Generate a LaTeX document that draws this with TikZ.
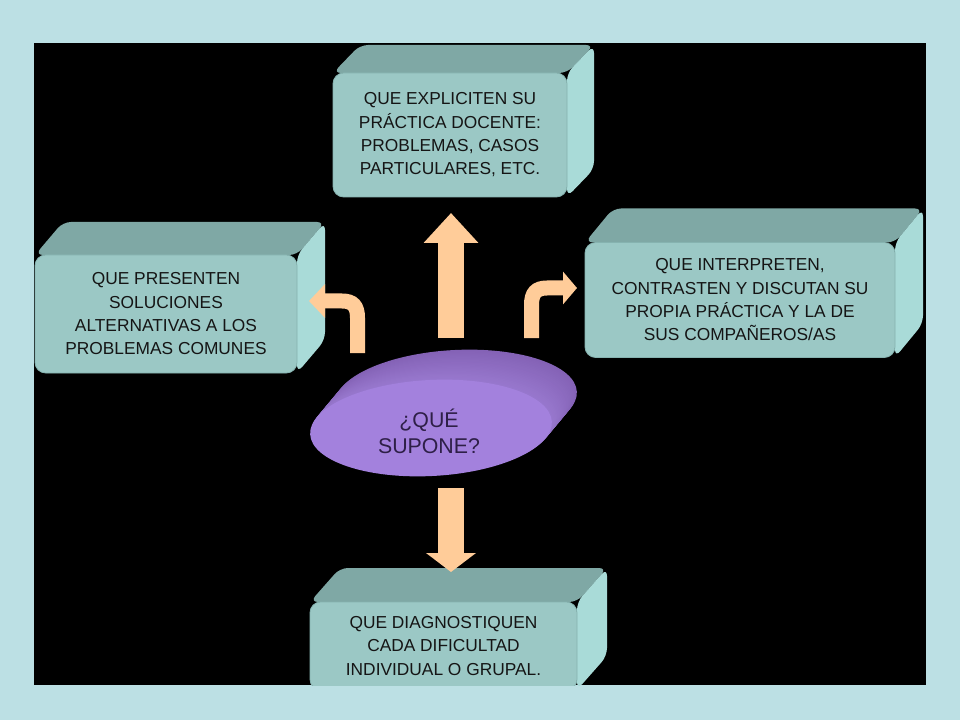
\documentclass[tikz,border=0pt]{standalone}
\usepackage{fontspec}
\setmainfont{Liberation Sans}
\usetikzlibrary{arrows.meta,calc}
\definecolor{outerbg}{HTML}{BCE0E4}
\definecolor{frontface}{HTML}{9BC8C5}
\definecolor{topface}{HTML}{7FA8A5}
\definecolor{sideface}{HTML}{A9DBD8}
\definecolor{faceedge}{HTML}{86B3B0}
\definecolor{arrowfill}{HTML}{FFCC99}
\definecolor{discfront}{HTML}{A381DD}
\definecolor{discback}{HTML}{8462B6}
\definecolor{discside}{HTML}{9878CE}
\definecolor{disctext}{HTML}{2E1F47}
\definecolor{boxtextcol}{HTML}{151515}
\tikzset{
  topside/.style={fill=topface, rounded corners=6pt},
  rightside/.style={fill=sideface, rounded corners=6pt},
  frontbox/.style={draw=faceedge, line width=0.6pt, fill=frontface, rounded corners=8pt,
    inner sep=0pt, align=center, text=boxtextcol, font=\fontsize{13}{17.5}\selectfont},
  blockarrow/.style={draw=arrowfill},
  disclabel/.style={align=center, text=disctext, font=\fontsize{16}{19.5}\selectfont},
}
% #1 name, #2 cx, #3 cy, #4 w, #5 h, #6 dx, #7 depth up, #8 text
\newcommand{\cubebox}[8]{%
  \coordinate (#1-tl) at ({#2-#4/2},{#3-#5/2});
  \coordinate (#1-tr) at ({#2+#4/2},{#3-#5/2});
  \coordinate (#1-br) at ({#2+#4/2},{#3+#5/2});
  \fill[topside] (#1-tl) -- ($(#1-tl)+(#6,-#7)$) -- ($(#1-tr)+(#6,-#7)$) -- (#1-tr) -- cycle;
  \fill[rightside] (#1-tr) -- ($(#1-tr)+(#6,-#7)$) -- ($(#1-br)+(#6,-#7)$) -- (#1-br) -- cycle;
  \node[frontbox, minimum width=#4*0.75pt, minimum height=#5*0.75pt] (#1) at (#2,#3) {#8};
}
\begin{document}
\begin{tikzpicture}[x=0.75pt,y=-0.75pt]
\useasboundingbox (0,0) rectangle (960,720);
\fill[outerbg] (0,0) rectangle (960,720);
\fill[black] (34,43) rectangle (926,685);
\begin{scope}
\clip (34,43) rectangle (926,685);
\cubebox{top}{450}{135}{234}{124}{27}{28}{QUE EXPLICITEN SU\\PRÁCTICA DOCENTE:\\PROBLEMAS, CASOS\\PARTICULARES, ETC.}
\cubebox{left}{166}{314}{262}{118}{28}{33}{QUE PRESENTEN\\SOLUCIONES\\ALTERNATIVAS A LOS\\PROBLEMAS COMUNES}
\cubebox{right}{740}{300}{310}{115}{28}{34}{QUE INTERPRETEN,\\CONTRASTEN Y DISCUTAN SU\\PROPIA PRÁCTICA Y LA DE\\SUS COMPAÑEROS/AS}
\cubebox{bottom}{443.5}{646}{267}{88}{30}{34}{QUE DIAGNOSTIQUEN\\CADA DIFICULTAD\\INDIVIDUAL O GRUPAL.}

% arrows
\coordinate (upS) at (451,338);
\coordinate (upE) at (451,213);
\coordinate (dnS) at (451,488);
\coordinate (dnE) at (451,572);
\coordinate (rtS) at (531.5,338);
\coordinate (rtE) at (577,288);
\coordinate (ltS) at (357.5,353);
\coordinate (ltE) at (309,301);
\draw[blockarrow, line width=19.5pt, -{Triangle[width=39.75pt,length=22.5pt]}] (upS) -- (upE);
\draw[blockarrow, line width=19.5pt, -{Triangle[width=36.75pt,length=14.25pt]}] (dnS) -- (dnE);
\draw[blockarrow, line width=11.25pt, -{Triangle[width=24pt,length=10.5pt]}]
  (rtS) -- (531.5,305) .. controls (531.5,293) and (536,288) .. (547,288) -- (rtE);
\draw[blockarrow, line width=11.25pt, -{Triangle[width=24.75pt,length=12pt]}]
  (ltS) -- (357.5,318) .. controls (357.5,306) and (353,301) .. (342,301) -- (ltE);

% disc
\foreach \i in {24,23,...,1}{
  \pgfmathtruncatemacro{\pcmix}{100*\i/24}
  \fill[discback!\pcmix!discside, rotate around={3:({431+25*\i/24},{428-30*\i/24})}]
    ({431+25*\i/24},{428-30*\i/24}) ellipse [x radius=90.75pt, y radius=36pt];
}
\fill[discfront, rotate around={3:(431,428)}] (431,428) ellipse [x radius=90.75pt, y radius=36pt];
\node[disclabel] (center) at (429,431) {¿QUÉ\\SUPONE?};
\end{scope}
\end{tikzpicture}
\end{document}
